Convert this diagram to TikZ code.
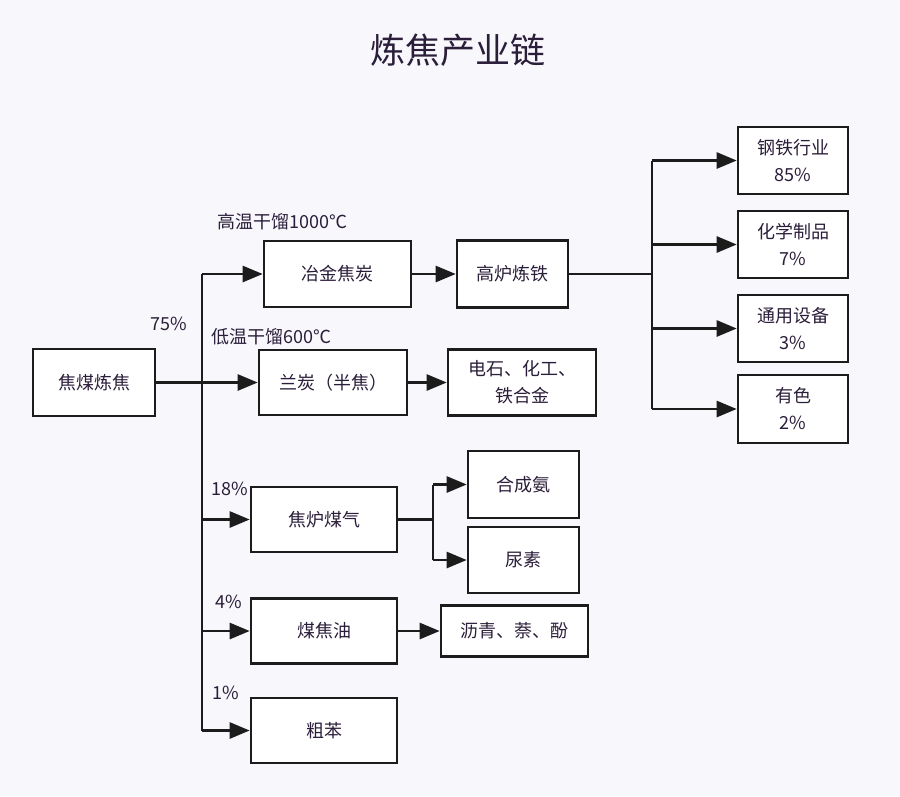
\documentclass[tikz,border=0pt]{standalone}
\usepackage{fontspec}
\newfontfamily\cjk{Noto Sans CJK SC}
\usetikzlibrary{arrows.meta}
\definecolor{bgc}{HTML}{F8F8FC}
\definecolor{txt}{HTML}{2B1E3A}
\definecolor{ln}{HTML}{1C1C1C}
\tikzset{
  box/.style={draw=ln, line width=2.6pt, fill=white, inner sep=0pt, align=center, text=txt,
    font=\cjk\fontsize{18}{27}\selectfont},
  lbl/.style={inner sep=0pt, text=txt, font=\cjk\fontsize{18}{22}\selectfont},
  conn/.style={draw=ln, line width=2.6pt},
  arr/.style={conn, -{Triangle[length=20pt,width=16pt]}},
}
\begin{document}
\begin{tikzpicture}[x=1pt,y=-1pt]
\fill[bgc] (0,0) rectangle (900,796);
\useasboundingbox (0,0) rectangle (900,796);
\node[lbl, font=\cjk\fontsize{35}{40}\selectfont] (title) at (458,50) {炼焦产业链};

% boxes
\node[box, minimum width=122pt, minimum height=67pt] (coal) at (94,382.5) {焦煤炼焦};
\node[box, minimum width=147pt, minimum height=66pt] (yj) at (337.5,274) {冶金焦炭};
\node[box, minimum width=148pt, minimum height=65pt] (lt) at (333,382.5) {兰炭（半焦）};
\node[box, minimum width=111pt, minimum height=67pt] (gl) at (512.5,274) {高炉炼铁};
\node[box, minimum width=148pt, minimum height=66pt] (ds) at (522,382.5) {电石、化工、\\铁合金};
\node[box, minimum width=110pt, minimum height=67pt] (gt) at (793,160.5) {钢铁行业\\85\%};
\node[box, minimum width=110pt, minimum height=67pt] (hx) at (793,244.5) {化学制品\\7\%};
\node[box, minimum width=110pt, minimum height=67pt] (ty) at (793,328.5) {通用设备\\3\%};
\node[box, minimum width=110pt, minimum height=68pt] (ys) at (793,409) {有色\\2\%};
\node[box, minimum width=146pt, minimum height=65pt] (jm) at (324,519.5) {焦炉煤气};
\node[box, minimum width=111pt, minimum height=67pt] (hca) at (523.5,484.5) {合成氨};
\node[box, minimum width=111pt, minimum height=66pt] (ns) at (523.5,560) {尿素};
\node[box, minimum width=146pt, minimum height=65pt] (mjy) at (324,631) {煤焦油};
\node[box, minimum width=147pt, minimum height=51pt] (lq) at (514.5,631) {沥青、萘、酚};
\node[box, minimum width=146pt, minimum height=65pt] (cb) at (324,730.5) {粗苯};

% labels
\node[lbl, anchor=west] (l1000) at (217,222) {高温干馏1000℃};
\node[lbl, anchor=west] (l600) at (211,337) {低温干馏600℃};
\node[lbl] (p75) at (169,324) {75\%};
\node[lbl] (p18) at (229.5,489) {18\%};
\node[lbl] (p4) at (228.5,602) {4\%};
\node[lbl] (p1) at (225.5,693) {1\%};

% connector coordinates
\coordinate (t) at (202,0);
\coordinate (b) at (652,0);
\coordinate (g) at (433,0);

% trunk
\draw[conn] (t |- yj.west) -- (t |- cb.west);
\draw[arr] (coal.east) -- (lt.west);
\draw[arr] (t |- yj.west) -- (yj.west);
\draw[arr] (t |- jm.west) -- (jm.west);
\draw[arr] (t |- mjy.west) -- (mjy.west);
\draw[arr] (t |- cb.west) -- (cb.west);

\draw[arr] (yj.east) -- (gl.west);
\draw[arr] (lt.east) -- (ds.west);

% right branch
\draw[conn] (gl.east) -- (b |- gl.east);
\draw[conn] (b |- gt.west) -- (b |- ys.west);
\draw[arr] (b |- gt.west) -- (gt.west);
\draw[arr] (b |- hx.west) -- (hx.west);
\draw[arr] (b |- ty.west) -- (ty.west);
\draw[arr] (b |- ys.west) -- (ys.west);

% gas branch
\draw[conn] (jm.east) -- (g |- jm.east);
\draw[conn] (g |- hca.west) -- (g |- ns.west);
\draw[arr] (g |- hca.west) -- (hca.west);
\draw[arr] (g |- ns.west) -- (ns.west);

\draw[arr] (mjy.east) -- (lq.west);
\end{tikzpicture}
\end{document}
